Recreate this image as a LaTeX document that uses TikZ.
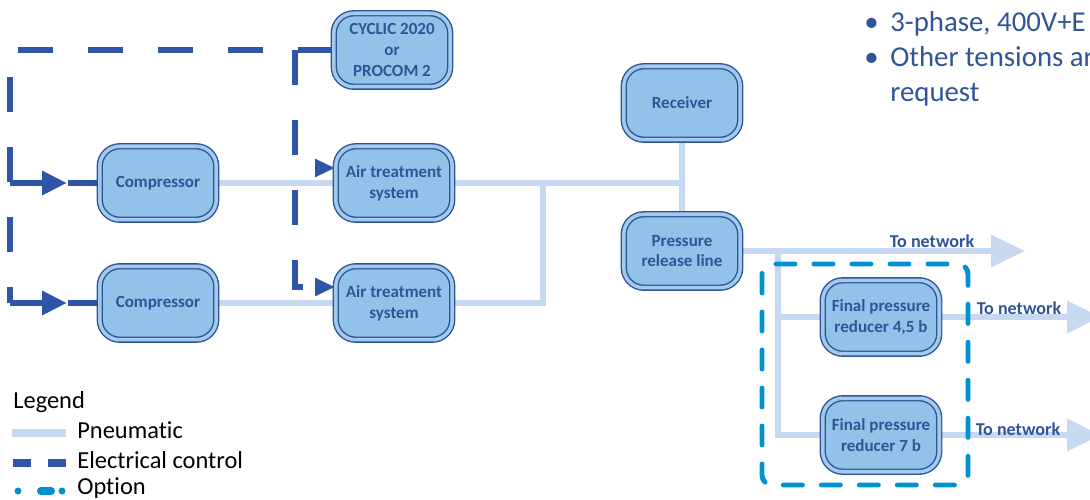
\documentclass[tikz,border=0pt]{standalone}
\usepackage{fontspec}
\setmainfont[Ligatures=NoCommon]{Carlito}
\usetikzlibrary{arrows.meta, positioning, calc, backgrounds, decorations.markings}
\definecolor{boxfill}{HTML}{92C1E9}
\definecolor{boxline}{HTML}{2F5597}
\definecolor{boxtext}{HTML}{2F5597}
\definecolor{pneucol}{HTML}{C6D9F1}
\definecolor{eleccol}{HTML}{2F56A6}
\definecolor{optcol}{HTML}{0092CC}
\tikzset{
    unitbox/.style={rectangle, rounded corners=0.4cm, draw=boxline, line width=0.8pt,
        double=boxfill!85!white, double distance=2pt, fill=boxfill,
        minimum width=2.33cm, minimum height=1.47cm, align=center, text=boxtext,
        inner sep=1pt, font=\fontsize{9.7}{11.8}\selectfont\bfseries},
    pneuline/.style={draw=pneucol, line width=3.6pt},
    pneuarrow/.style={pneuline, -{Triangle[length=0.68cm, width=0.62cm]}},
    elecline/.style={draw=eleccol, line width=3.6pt, dash pattern=on 0.7cm off 0.7cm},
    elecarrow/.style={elecline, -{Triangle[length=0.4cm, width=0.34cm]}},
    elecmid/.style={elecline, dash pattern=on 0.64cm off 0.52cm on 0.7cm off 0.7cm,
        postaction={decorate}, decoration={markings, mark=at position #1 with
        {\arrow{Triangle[length=0.5cm, width=0.46cm, color=eleccol]}}}},
    optline/.style={draw=optcol, line width=2.8pt, line cap=round,
        dash pattern=on 0.38cm off 0.38cm, rounded corners=0.2cm},
    netlabel/.style={inner sep=0pt, text=boxtext, font=\fontsize{10.3}{12}\selectfont\bfseries},
    legendtext/.style={inner sep=0pt, anchor=west, font=\fontsize{13.9}{16}\selectfont},
}

\begin{document}
\begin{tikzpicture}[x=0.02cm, y=-0.02cm]
    \useasboundingbox (0,0) rectangle (1090,500);

    % units
    \node[unitbox] (cyclic) at (392,50) {CYCLIC 2020\\or\\PROCOM 2};
    \node[unitbox] (comp1) at (158,183) {Compressor};
    \node[unitbox] (comp2) at (158,303) {Compressor};
    \node[unitbox] (at1) at (394,183) {Air treatment\\system};
    \node[unitbox] (at2) at (394,303) {Air treatment\\system};
    \node[unitbox] (receiver) at (682,103) {Receiver};
    \node[unitbox] (release) at (682,251) {Pressure\\release line};
    \node[unitbox] (red45) at (881,317) {Final pressure\\reducer 4,5 b};
    \node[unitbox] (red7) at (881,435) {Final pressure\\reducer 7 b};

    \coordinate (ctrlL) at (10,50);
    \coordinate (ctrlR) at (295,50);
    \coordinate (tee) at (543,183);
    \coordinate (branch) at (778,251);
    \coordinate (netA) at (1025,251);
    \coordinate (netB) at (1101,317);
    \coordinate (netC) at (1101,435);

    \begin{scope}[on background layer]
        % pneumatic
        \draw[pneuline] (comp1) -- (at1);
        \draw[pneuline] (comp2) -- (at2);
        \draw[pneuline] (receiver) -- (release);
        \draw[pneuline] (at1.east) -- (at1.east -| receiver.south);
        \draw[pneuline] (at2.east) -| (tee);
        \draw[pneuarrow] (release.east) -- (netA);
        \draw[pneuline] (branch) |- (red45.west);
        \draw[pneuline] (branch) |- (red7.west);
        \draw[pneuarrow] (red45.east) -- (netB);
        \draw[pneuarrow] (red7.east) -- (netC);
        % electrical control
        \draw[elecline] (cyclic.west) -- (ctrlL) -- (ctrlL |- comp2.west);
        \draw[elecmid=0.64] (ctrlL |- comp1.west) -- (comp1.west);
        \draw[elecmid=0.64] (ctrlL |- comp2.west) -- (comp2.west);
        \draw[elecarrow] (ctrlR) |- ($(at1.west)+(0,-15)$);
        \draw[elecarrow] (ctrlR) |- ($(at2.west)+(0,-16)$);
    \end{scope}

    % option
    \draw[optline] (762,264) rectangle (968,485);

    \node[netlabel] (lblA) at (932,241) {To network};
    \node[netlabel] (lblB) at (1019,308) {To network};
    \node[netlabel] (lblC) at (1018,429) {To network};

    % supply notes
    \node[inner sep=0pt, anchor=base west, text=boxtext, font=\fontsize{16.4}{19.8}\selectfont]
        (notes) at (864,32) {\begin{tabular}[t]{@{}p{0.52cm}@{}l@{}}
        \textbullet & 3-phase, 400V+E\\
        \textbullet & Other tensions ar\\
        & request
        \end{tabular}};

    % legend
    \node[legendtext] (legtitle) at (13,402) {Legend};
    \node[legendtext] (legpneu) at (77,430) {Pneumatic};
    \node[legendtext] (legelec) at (77,460) {Electrical control};
    \node[legendtext] (legopt) at (77,488) {Option};
    \draw[pneucol, line width=5pt] (12,433) -- (66,433);
    \draw[eleccol, line width=4.5pt, dash pattern=on 0.36cm off 0.34cm] (13,463) -- (66,463);
    \draw[optcol, line width=4pt, line cap=round,
        dash pattern=on 0cm off 0.45cm on 0.22cm off 0.21cm on 0cm off 1cm] (18,491) -- (62,491);
\end{tikzpicture}
\end{document}
